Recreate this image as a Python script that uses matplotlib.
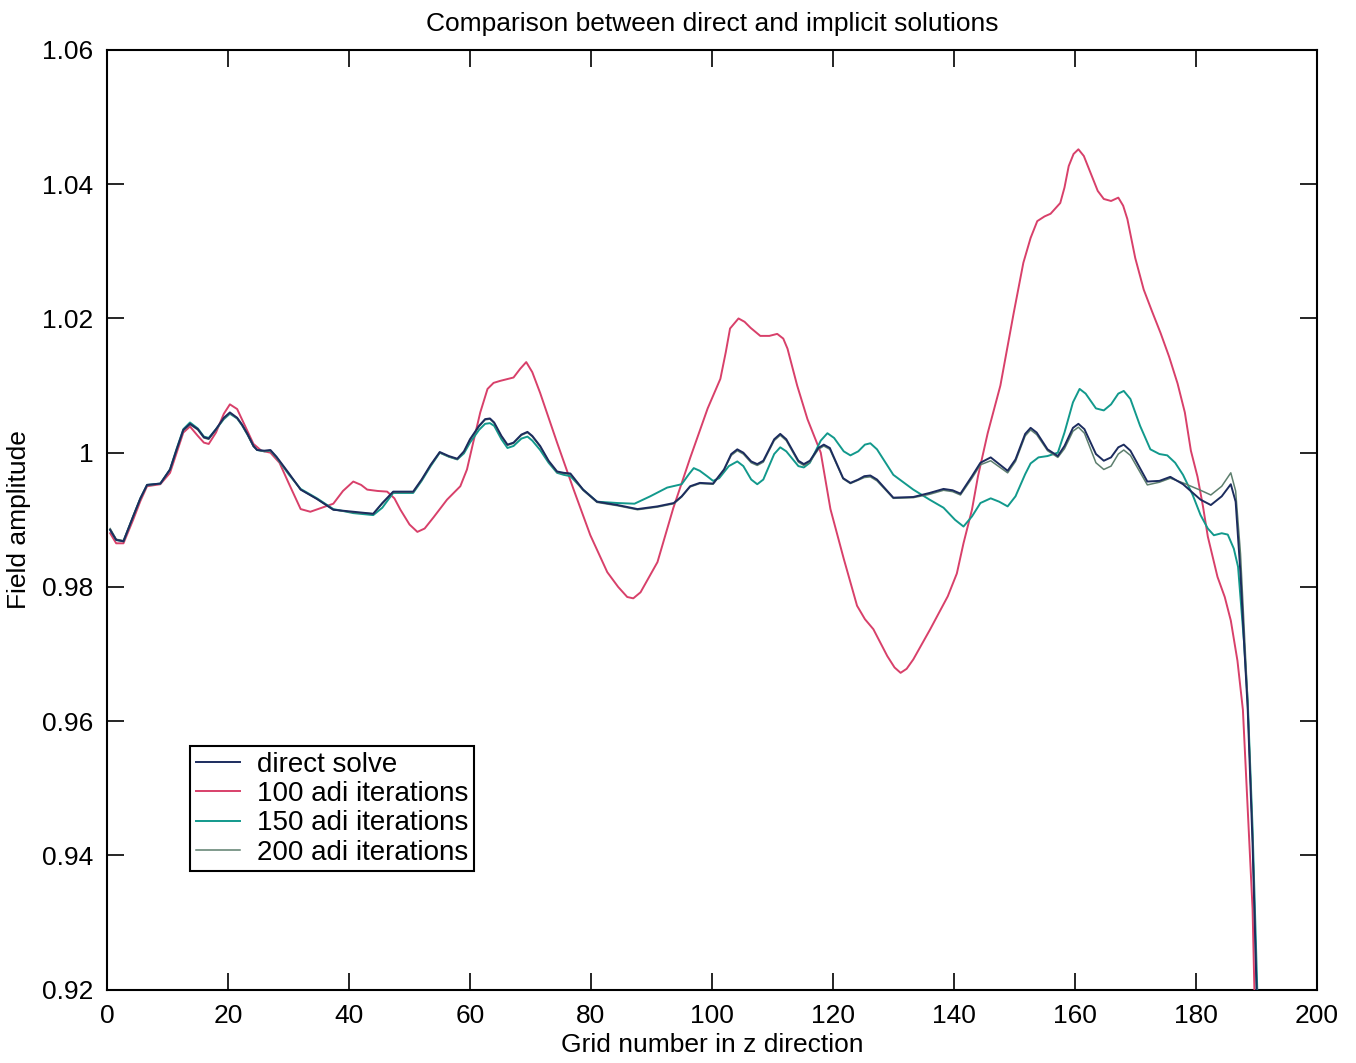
import matplotlib.pyplot as plt
import numpy as np

plt.rcParams['font.family'] = ['Liberation Sans', 'DejaVu Sans']

# grid positions / field amplitude
x_direct = [0.5, 1.5, 2.7, 4.3, 5.5, 6.6, 8.8, 10.4, 11.5, 12.6,
            13.7, 15.0, 16.0, 16.8, 18.0, 19.3, 20.3, 21.5, 22.3, 23.2,
            24.2, 24.8, 26.0, 27.0, 28.0, 30.0, 32.0, 34.7, 37.4, 40.7,
            44.0, 45.5, 47.3, 50.6, 52.0, 53.5, 55.0, 56.5, 57.9, 59.0,
            60.0, 61.5, 62.5, 63.3, 64.0, 65.2, 66.2, 67.2, 68.5, 69.5,
            70.3, 71.6, 73.0, 74.4, 75.5, 76.6, 78.7, 81.0, 84.4, 87.7,
            91.0, 93.7, 95.0, 96.4, 98.0, 100.2, 102.0, 103.2, 104.2, 105.2,
            106.5, 107.5, 108.5, 110.3, 111.3, 112.3, 114.3, 115.2, 116.2, 117.6,
            118.5, 119.5, 121.7, 122.9, 124.2, 125.2, 126.2, 127.3, 130.0, 133.3,
            136.0, 138.3, 139.8, 141.1, 143.0, 144.4, 146.1, 147.5, 148.9, 150.2,
            151.8, 152.7, 153.7, 155.5, 157.2, 158.3, 159.7, 160.6, 161.6, 163.5,
            164.8, 166.0, 167.2, 168.1, 169.2, 172.0, 174.0, 175.8, 177.9, 180.8,
            182.5, 184.3, 185.8, 186.6, 187.4, 188.0, 188.6, 189.4, 190.0, 190.4]
y_direct = [.9885, .9870, .9868, .9905, .9932, .9952, .9954, .9975, 1.0005, 1.0034,
            1.0043, 1.0035, 1.0023, 1.0021, 1.0035, 1.0052, 1.0060, 1.0052, 1.0042, 1.0028,
            1.0010, 1.0004, 1.0003, 1.0004, .9994, .9970, .9945, .9931, .9915, .9912,
            .9909, .9925, .9942, .9942, .9960, .9982, 1.0001, .9995, .9991, 1.0002,
            1.0020, 1.0040, 1.0050, 1.0051, 1.0045, 1.0025, 1.0012, 1.0015, 1.0027, 1.0031,
            1.0025, 1.0010, .9988, .9972, .9970, .9969, .9945, .9927, .9922, .9916,
            .9920, .9925, .9935, .9950, .9955, .9954, .9975, .9998, 1.0005, 1.0000,
            .9987, .9983, .9988, 1.0020, 1.0028, 1.0020, .9988, .9983, .9988, 1.0007,
            1.0012, 1.0007, .9962, .9955, .9960, .9965, .9966, .9960, .9933, .9934,
            .9940, .9946, .9944, .9939, .9965, .9985, .9993, .9983, .9973, .9990,
            1.0028, 1.0037, 1.0030, 1.0005, .9995, 1.0010, 1.0037, 1.0043, 1.0035, .9998,
            .9988, .9993, 1.0008, 1.0012, 1.0003, .9957, .9958, .9964, .9953, .9930,
            .9922, .9935, .9953, .9927, .9820, .9716, .9617, .9417, .9220, .9100]

x_adi100 = [0.5, 1.5, 2.7, 4.3, 5.5, 6.6, 8.8, 10.4, 11.5, 12.6,
            13.7, 15.0, 16.0, 16.8, 18.0, 19.3, 20.3, 21.5, 22.8, 24.2,
            25.5, 27.0, 28.5, 30.0, 32.0, 33.6, 35.2, 37.4, 39.0, 40.7,
            42.0, 43.0, 44.7, 46.3, 47.5, 48.5, 50.0, 51.3, 52.5, 54.0,
            56.2, 57.3, 58.4, 59.5, 60.5, 61.7, 62.9, 63.9, 65.0, 67.2,
            68.3, 69.3, 70.3, 71.6, 74.4, 77.1, 79.9, 82.7, 84.5, 86.0,
            87.0, 88.2, 91.0, 93.6, 96.4, 99.3, 101.4, 102.3, 103.0, 104.4,
            105.4, 106.4, 108.0, 109.5, 110.8, 111.8, 112.5, 114.1, 115.8, 118.0,
            119.6, 121.8, 124.0, 125.3, 126.7, 129.0, 130.2, 131.2, 132.2, 133.3,
            136.1, 139.0, 140.5, 141.6, 143.0, 144.0, 145.6, 147.7, 149.9, 151.5,
            152.7, 153.8, 155.0, 156.0, 157.6, 158.3, 159.0, 159.8, 160.6, 161.5,
            162.6, 163.8, 164.8, 166.0, 167.2, 168.0, 168.7, 170.0, 171.4, 172.8,
            174.2, 175.6, 177.0, 178.2, 179.2, 180.3, 181.2, 182.0, 183.6, 184.8,
            185.8, 186.9, 187.8, 188.6, 189.4, 189.7, 190.0]
y_adi100 = [.9880, .9865, .9865, .9900, .9928, .9950, .9953, .9970, 1.0000, 1.0030,
            1.0039, 1.0025, 1.0015, 1.0013, 1.0030, 1.0058, 1.0072, 1.0065, 1.0040, 1.0013,
            1.0003, 1.0000, .9985, .9955, .9916, .9912, .9917, .9924, .9943, .9957,
            .9952, .9945, .9943, .9942, .9932, .9915, .9893, .9882, .9887, .9904,
            .9930, .9940, .9950, .9975, 1.0014, 1.0060, 1.0095, 1.0104, 1.0107, 1.0112,
            1.0125, 1.0135, 1.0120, 1.0089, 1.0015, .9946, .9877, .9822, .9800, .9785,
            .9783, .9792, .9837, .9917, .9992, 1.0066, 1.0110, 1.0150, 1.0185, 1.0200,
            1.0195, 1.0186, 1.0174, 1.0174, 1.0177, 1.0170, 1.0155, 1.0100, 1.0050, 1.0000,
            .9916, .9842, .9772, .9752, .9737, .9697, .9680, .9672, .9678, .9692,
            .9737, .9786, .9820, .9865, .9915, .9965, 1.0029, 1.0100, 1.0208, 1.0283,
            1.0320, 1.0345, 1.0352, 1.0356, 1.0372, 1.0395, 1.0427, 1.0445, 1.0452, 1.0442,
            1.0417, 1.0390, 1.0378, 1.0375, 1.0380, 1.0368, 1.0348, 1.0290, 1.0243, 1.0210,
            1.0178, 1.0143, 1.0103, 1.0060, 1.0003, .9964, .9920, .9875, .9815, .9785,
            .9750, .9690, .9617, .9467, .9320, .9200, .9100]

x_adi150 = [0.5, 1.5, 2.7, 4.3, 5.5, 6.6, 8.8, 10.4, 11.5, 12.6,
            13.7, 15.0, 16.0, 16.8, 18.0, 19.3, 20.3, 21.5, 22.3, 23.2,
            24.2, 24.8, 26.0, 27.0, 28.0, 30.0, 32.0, 34.7, 37.4, 40.7,
            44.0, 45.5, 47.3, 50.6, 52.0, 53.5, 55.0, 56.5, 57.9, 59.0,
            60.0, 61.5, 62.5, 63.3, 64.0, 65.2, 66.2, 67.2, 68.5, 69.5,
            70.3, 71.6, 73.0, 74.4, 75.5, 76.6, 78.7, 81.0, 84.4, 87.2,
            89.8, 92.6, 95.0, 96.2, 97.0, 98.0, 99.2, 100.2, 101.2, 102.8,
            104.2, 105.2, 106.5, 107.5, 108.5, 110.3, 111.3, 112.3, 114.3, 115.2,
            116.2, 118.0, 119.1, 120.2, 121.8, 122.9, 124.2, 125.3, 126.2, 127.3,
            130.0, 133.3, 136.0, 138.3, 140.2, 141.6, 143.0, 144.4, 146.1, 147.5,
            148.9, 150.2, 151.8, 152.7, 154.0, 155.5, 157.2, 158.3, 159.7, 160.8,
            161.8, 163.5, 164.8, 166.0, 167.2, 168.1, 169.2, 170.8, 172.5, 174.0,
            175.3, 176.6, 177.9, 179.5, 180.8, 182.0, 183.0, 184.3, 185.3, 186.3,
            187.0, 188.0, 188.6, 189.4, 190.1, 190.5]
y_adi150 = [.9885, .9870, .9868, .9905, .9932, .9952, .9954, .9975, 1.0006, 1.0035,
            1.0045, 1.0036, 1.0024, 1.0022, 1.0035, 1.0050, 1.0058, 1.0051, 1.0041, 1.0027,
            1.0010, 1.0004, 1.0002, 1.0003, .9993, .9968, .9946, .9932, .9916, .9910,
            .9907, .9918, .9940, .9940, .9958, .9980, 1.0000, .9994, .9990, .9999,
            1.0015, 1.0034, 1.0043, 1.0044, 1.0040, 1.0020, 1.0007, 1.0010, 1.0021, 1.0024,
            1.0018, 1.0004, .9985, .9970, .9967, .9965, .9945, .9927, .9925, .9924,
            .9935, .9948, .9953, .9968, .9977, .9973, .9965, .9958, .9962, .9980,
            .9987, .9980, .9960, .9953, .9960, .9998, 1.0008, 1.0002, .9980, .9978,
            .9985, 1.0018, 1.0029, 1.0022, 1.0002, .9996, 1.0002, 1.0012, 1.0014, 1.0005,
            .9967, .9945, .9930, .9918, .9900, .9890, .9905, .9925, .9932, .9927,
            .9920, .9935, .9968, .9984, .9993, .9995, 1.0000, 1.0030, 1.0075, 1.0095,
            1.0088, 1.0066, 1.0063, 1.0072, 1.0088, 1.0092, 1.0080, 1.0040, 1.0005, .9998,
            .9996, .9985, .9967, .9937, .9907, .9887, .9877, .9880, .9878, .9857,
            .9830, .9716, .9630, .9440, .9220, .9100]

# 200 iterations is sampled on the same grid positions as the direct solve
x_adi200 = x_direct
y_adi200 = [.9887, .9871, .9869, .9905, .9932, .9951, .9954, .9975, 1.0004, 1.0033,
            1.0042, 1.0034, 1.0022, 1.0020, 1.0034, 1.0051, 1.0059, 1.0051, 1.0041, 1.0027,
            1.0009, 1.0004, 1.0002, 1.0003, .9993, .9969, .9945, .9931, .9915, .9911,
            .9909, .9924, .9941, .9941, .9959, .9981, 1.0000, .9994, .9990, 1.0001,
            1.0019, 1.0039, 1.0049, 1.0050, 1.0044, 1.0024, 1.0011, 1.0014, 1.0026, 1.0030,
            1.0024, 1.0009, .9987, .9971, .9969, .9968, .9944, .9926, .9921, .9915,
            .9919, .9924, .9934, .9949, .9954, .9953, .9974, .9996, 1.0003, .9998,
            .9985, .9981, .9986, 1.0018, 1.0026, 1.0018, .9986, .9981, .9986, 1.0005,
            1.0010, 1.0005, .9961, .9954, .9959, .9963, .9964, .9958, .9932, .9933,
            .9938, .9944, .9942, .9937, .9962, .9982, .9988, .9979, .9970, .9987,
            1.0025, 1.0034, 1.0027, 1.0003, .9993, 1.0006, 1.0032, 1.0038, 1.0029, .9985,
            .9975, .9980, .9998, 1.0004, .9996, .9952, .9956, .9962, .9955, .9944,
            .9937, .9950, .9970, .9943, .9850, .9740, .9630, .9430, .9220, .9100]

labels = ['direct solve', '100 adi iterations', '150 adi iterations', '200 adi iterations']
colors = ['#1c2c5e', '#d8406a', '#12998c', '#5d7f6e']

yticks = [0.92, 0.94, 0.96, 0.98, 1.00, 1.02, 1.04, 1.06]
ytick_labels = ['0.92', '0.94', '0.96', '0.98', '1', '1.02', '1.04', '1.06']
xticks = [0, 20, 40, 60, 80, 100, 120, 140, 160, 180, 200]

fig = plt.figure(figsize=(13.56, 10.63), dpi=100)
ax = fig.add_axes([0.079, 0.069, 0.892, 0.884])

ax.plot(x_direct, y_direct, color=colors[0], lw=1.4, label=labels[0], zorder=5)
ax.plot(x_adi100, y_adi100, color=colors[1], lw=1.4, label=labels[1], zorder=3)
ax.plot(x_adi150, y_adi150, color=colors[2], lw=1.4, label=labels[2], zorder=4)
ax.plot(x_adi200, y_adi200, color=colors[3], lw=1.1, label=labels[3], zorder=4)

ax.set_xlim(0, 200)
ax.set_ylim(0.92, 1.06)
ax.set_xticks(xticks)
ax.set_yticks(yticks)
ax.set_yticklabels(ytick_labels)
ax.tick_params(direction='in', top=True, right=True, length=12, width=1.2, labelsize=19, pad=10)
for s in ax.spines.values():
    s.set_linewidth(1.5)

ax.set_title('Comparison between direct and implicit solutions', fontsize=19, pad=14)
ax.set_xlabel('Grid number in z direction', fontsize=19, labelpad=4)
ax.set_ylabel('Field amplitude', fontsize=19, labelpad=8)

# legend box sits at lower left, MATLAB style square frame
leg = ax.legend(loc='lower left', bbox_to_anchor=(0.0687, 0.126), borderaxespad=0,
                fontsize=20, fancybox=False, edgecolor='black', framealpha=1,
                handlelength=1.6, handletextpad=0.6, labelspacing=0.12, borderpad=0.2)
leg.get_frame().set_linewidth(1.5)

plt.savefig('out.png', dpi=100)
